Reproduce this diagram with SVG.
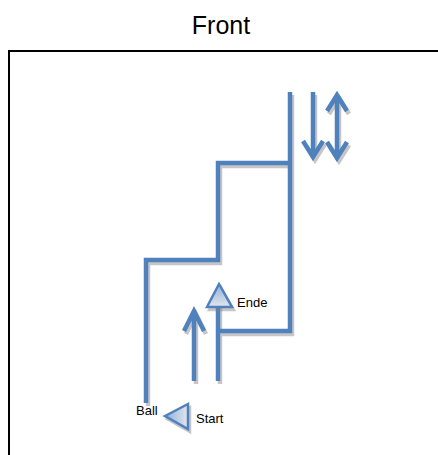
<svg xmlns="http://www.w3.org/2000/svg" width="438" height="455" viewBox="0 0 438 455">
<style>
.ln{fill:none;stroke:#4F81BD;stroke-width:4.5;stroke-linejoin:miter;stroke-linecap:butt}
.tri{stroke:#4F81BD;stroke-width:2.5;stroke-linejoin:miter}
.lbl{font-family:"Liberation Sans",Arial,sans-serif;font-size:13px;fill:#000}
</style>
<defs>
<filter id="sh" x="-20%" y="-20%" width="140%" height="140%">
<feDropShadow dx="2" dy="3" stdDeviation="0.6" flood-color="#808080" flood-opacity="0.45"/>
</filter>
<linearGradient id="gv" x1="0" y1="0" x2="0" y2="1">
<stop offset="0" stop-color="#8fb0dc"/>
<stop offset="1" stop-color="#e2e6ec"/>
</linearGradient>
<linearGradient id="gh" x1="0" y1="0" x2="1" y2="0">
<stop offset="0" stop-color="#8fb0dc"/>
<stop offset="1" stop-color="#e2e6ec"/>
</linearGradient>
</defs>
<rect width="438" height="455" fill="#fff"/>
<text x="221" y="34" text-anchor="middle" style="font-family:'Liberation Sans',Arial,sans-serif;font-size:25px;fill:#000">Front</text>
<path d="M9,456 V51 H438" fill="none" stroke="#000" stroke-width="2"/>
<g id="connectors" filter="url(#sh)">
<path class="ln" d="M146,403 V260 H218 V163 H290"/>
<path class="ln" d="M290,92 V331 H218"/>
<path class="ln" d="M218,381 V305"/>
<path class="ln" d="M194,381 V311 M184,331 L194,311 L204,331"/>
<path class="ln" d="M313,92 V156 M303,141 L313,157 L323,141"/>
<path class="ln" d="M337,95 V158 M327,111 L337,95 L347,111 M327,142 L337,158 L347,142"/>
</g>
<g id="ende" filter="url(#sh)">
<polygon class="tri" points="219,284 207,307 232,307" fill="url(#gv)"/>
</g>
<g id="start" filter="url(#sh)">
<polygon class="tri" points="165,416 188,404 188,429" fill="url(#gh)"/>
</g>
<g id="labels">
<text class="lbl" x="136" y="415">Ball</text>
<text class="lbl" x="196" y="423">Start</text>
<text class="lbl" x="237" y="307">Ende</text>
</g>
</svg>
